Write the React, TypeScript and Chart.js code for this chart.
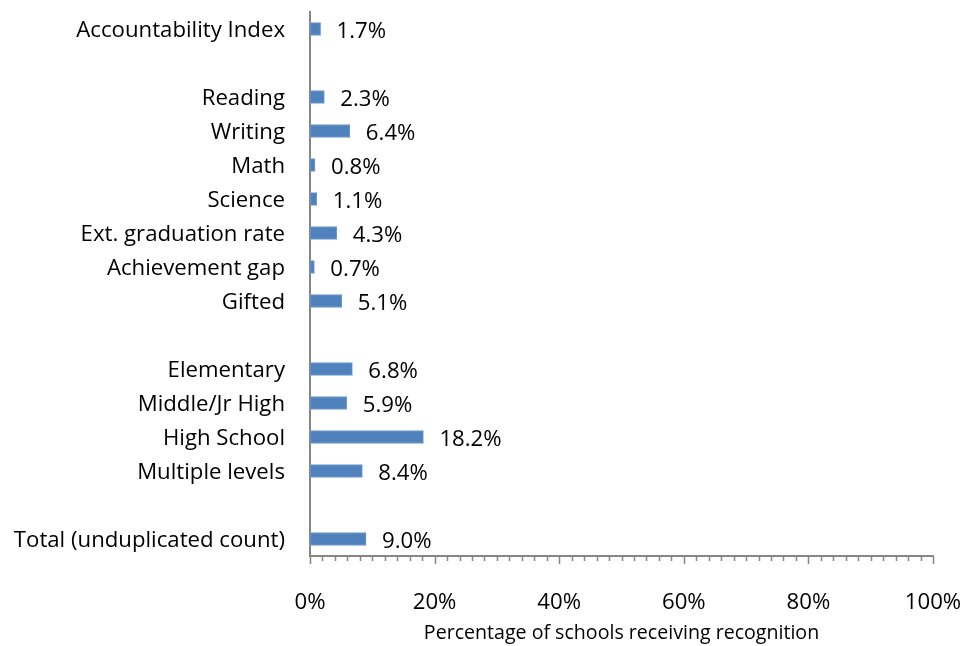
import React, { useEffect, useRef } from "react";
import { Chart, registerables } from "chart.js";

Chart.register(...registerables);

// Row labels; empty strings leave a blank row between groups
const categories = [
  "Accountability Index",
  "",
  "Reading",
  "Writing",
  "Math",
  "Science",
  "Ext. graduation rate",
  "Achievement gap",
  "Gifted",
  "",
  "Elementary",
  "Middle/Jr High",
  "High School",
  "Multiple levels",
  "",
  "Total (unduplicated count)",
];

// Percentage of schools receiving recognition
const recognitionPct: (number | null)[] = [
  1.7, null, 2.3, 6.4, 0.8, 1.1, 4.3, 0.7, 5.1, null, 6.8, 5.9, 18.2, 8.4, null, 9.0,
];

const xMajorTicks = [0, 20, 40, 60, 80, 100];
const xMinorStep = 2;

const FONT = "'Open Sans', sans-serif";
const LABEL_SIZE = 22.2;
const AXIS_GREY = "#868686";
const BAR_BLUE = "#4F81BD";

// Draws the "n.n%" label to the right of each bar
const valueLabels = {
  id: "valueLabels",
  afterDatasetsDraw(chart: Chart) {
    const { ctx } = chart;
    const meta = chart.getDatasetMeta(0);
    ctx.save();
    ctx.font = `${LABEL_SIZE}px ${FONT}`;
    ctx.fillStyle = "#000";
    ctx.textAlign = "left";
    ctx.textBaseline = "middle";
    meta.data.forEach((bar: any, i: number) => {
      const v = recognitionPct[i];
      if (v == null) return;
      ctx.fillText(`${v.toFixed(1)}%`, bar.x + 16, bar.y + 3);
    });
    ctx.restore();
  },
};

// Major and minor tick marks hanging below the x axis
const axisTicks = {
  id: "axisTicks",
  afterDraw(chart: Chart) {
    const { ctx } = chart;
    const x = chart.scales.x;
    const y0 = chart.chartArea.bottom;
    ctx.save();
    ctx.strokeStyle = AXIS_GREY;
    ctx.lineWidth = 1.5;
    for (let v = 0; v <= 100; v += xMinorStep) {
      const px = Math.round(x.getPixelForValue(v)) + 0.5;
      const len = xMajorTicks.includes(v) ? 8 : 5;
      ctx.beginPath();
      ctx.moveTo(px, y0);
      ctx.lineTo(px, y0 + len);
      ctx.stroke();
    }
    ctx.restore();
  },
};

const noOverflowPadding = (s: any) => {
  s.paddingLeft = 0;
  s.paddingRight = 0;
  s.paddingTop = 0;
  s.paddingBottom = 0;
};

export default function App() {
  const canvasRef = useRef<HTMLCanvasElement | null>(null);

  useEffect(() => {
    if (!canvasRef.current) return;
    const chart = new Chart(canvasRef.current, {
      type: "bar",
      data: {
        labels: categories,
        datasets: [
          {
            data: recognitionPct,
            backgroundColor: BAR_BLUE,
            borderColor: "#6f9bd0",
            borderWidth: 1,
            borderSkipped: false,
            barThickness: 13,
          },
        ],
      },
      options: {
        indexAxis: "y",
        animation: false,
        responsive: false,
        maintainAspectRatio: false,
        layout: { padding: { top: 12, right: 31, left: 0, bottom: 0 } },
        plugins: {
          legend: { display: false },
          tooltip: { enabled: false },
        },
        scales: {
          x: {
            type: "linear",
            min: 0,
            max: 100,
            afterFit: (s: any) => {
              s.height = 90;
              noOverflowPadding(s);
            },
            afterBuildTicks: (s: any) => {
              s.ticks = xMajorTicks.map((v) => ({ value: v }));
            },
            ticks: {
              callback: (v: any) => `${v}%`,
              font: { family: FONT, size: LABEL_SIZE },
              color: "#000",
              padding: 33,
              maxRotation: 0,
              autoSkip: false,
            },
            grid: { display: false, drawTicks: false },
            border: { display: true, color: AXIS_GREY, width: 2 },
            title: {
              display: true,
              text: "Percentage of schools receiving recognition",
              font: { family: FONT, size: 19.6 },
              color: "#000",
              padding: { top: 0, bottom: 1 },
            },
          },
          y: {
            type: "category",
            afterFit: (s: any) => {
              s.width = 310;
              noOverflowPadding(s);
            },
            ticks: {
              font: { family: FONT, size: LABEL_SIZE },
              color: "#000",
              padding: 25,
              labelOffset: 2,
              autoSkip: false,
            },
            grid: { display: false, drawTicks: false },
            border: { display: true, color: AXIS_GREY, width: 2 },
          },
        },
      },
      plugins: [valueLabels, axisTicks],
    });
    return () => chart.destroy();
  }, []);

  return (
    <div style={{ position: "fixed", left: 0, top: 0, width: 964, height: 646, background: "#fff" }}>
      <canvas ref={canvasRef} width={964} height={646} style={{ width: 964, height: 646 }} />
    </div>
  );
}
